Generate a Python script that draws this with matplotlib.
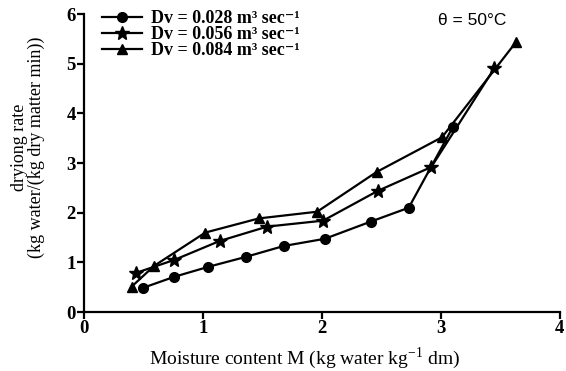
import matplotlib
matplotlib.use("Agg")
import matplotlib.pyplot as plt

# Drying rate vs moisture content for three air flow rates
m_028 = [0.50, 0.76, 1.045, 1.36, 1.68, 2.025, 2.41, 2.73, 3.10]
r_028 = [0.49, 0.71, 0.91, 1.11, 1.33, 1.475, 1.82, 2.10, 3.72]

m_056 = [0.44, 0.76, 1.14, 1.54, 2.01, 2.47, 2.92, 3.45]
r_056 = [0.79, 1.05, 1.43, 1.72, 1.84, 2.44, 2.92, 4.91]

m_084 = [0.40, 0.59, 1.02, 1.47, 1.96, 2.46, 3.01, 3.63]
r_084 = [0.51, 0.93, 1.60, 1.885, 2.02, 2.82, 3.52, 5.43]

labels = ["Dv = 0.028 m³ sec⁻¹",
          "Dv = 0.056 m³ sec⁻¹",
          "Dv = 0.084 m³ sec⁻¹"]

x_ticks = [0, 1, 2, 3, 4]
y_ticks = [0, 1, 2, 3, 4, 5, 6]

plt.rcParams['font.family'] = ['Liberation Serif', 'DejaVu Serif']
plt.rcParams['mathtext.fontset'] = 'custom'
plt.rcParams['mathtext.rm'] = 'Liberation Serif'

fig = plt.figure(figsize=(5.66, 3.71), dpi=100)
ax = fig.add_axes([0.1484, 0.159, 0.8406, 0.803])

kw = dict(color='black', lw=1.6, markeredgecolor='black', markerfacecolor='black')
ax.plot(m_028, r_028, marker='o', ms=7, label=labels[0], **kw)
ax.plot(m_056, r_056, marker='*', ms=10, label=labels[1], **kw)
ax.plot(m_084, r_084, marker='^', ms=7.5, label=labels[2], **kw)

ax.set_xlim(0, 4)
ax.set_ylim(0, 6)
ax.set_xticks(x_ticks)
ax.set_yticks(y_ticks)
for s in ['top', 'right']:
    ax.spines[s].set_visible(False)
for s in ['left', 'bottom']:
    ax.spines[s].set_linewidth(1.6)
ax.tick_params(axis='both', width=1.6, length=5, direction='out', labelsize=13.5, pad=1)
for lbl in ax.get_xticklabels() + ax.get_yticklabels():
    lbl.set_fontweight('bold')

ax.set_xlabel(r"Moisture content M (kg water kg$^{-1}$ dm)", fontsize=14)
ax.xaxis.set_label_coords(0.464, -0.112)
ax.set_ylabel("dryiong rate\n(kg water/(kg dry matter min))", fontsize=13,
              linespacing=0.95)
ax.yaxis.set_label_coords(-0.082, 0.554)

ax.text(0.815, 0.98, "θ = 50°C", transform=ax.transAxes, fontsize=12.5,
        family=['Liberation Sans', 'DejaVu Sans'], ha='center', va='center')

leg = ax.legend(loc='upper left', bbox_to_anchor=(0.015, 1.05), frameon=False,
                prop={'family': ['Liberation Serif', 'DejaVu Serif'],
                      'weight': 'bold', 'size': 13},
                handlelength=2.2, handletextpad=0.5,
                labelspacing=-0.05, borderaxespad=0.2)

fig.savefig("out.png", dpi=100)
